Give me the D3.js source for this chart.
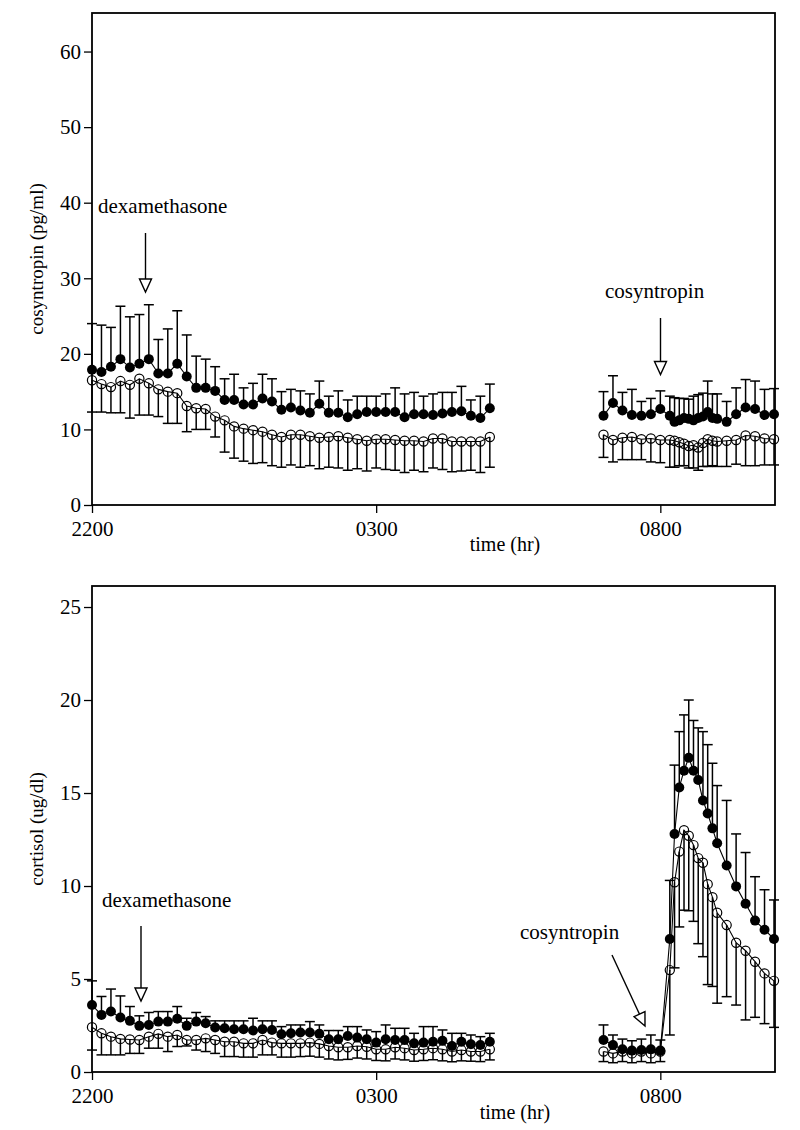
<!DOCTYPE html>
<html><head><meta charset="utf-8">
<script src="https://cdn.jsdelivr.net/npm/d3@7"></script>
<style>
body{margin:0;background:#fff}
svg text{font-family:"Liberation Serif","Times New Roman",serif;fill:#000}
</style>
</head><body>
<svg id="chart" width="800" height="1130"></svg>
<script>
// ---------- categories (sampling times) ----------
const timesEarly = ["2200","2210","2220","2230","2240","2250","2300","2310","2320","2330","2340","2350",
  "0000","0010","0020","0030","0040","0050","0100","0110","0120","0130","0140","0150",
  "0200","0210","0220","0230","0240","0250","0300","0310","0320","0330","0340","0350",
  "0400","0410","0420","0430","0440","0450","0500"];
const timesLate = ["0700","0710","0720","0730","0740","0750","0800","0810","0815","0820","0825","0830",
  "0835","0840","0845","0850","0855","0900","0910","0920","0930","0940","0950","1000"];
const xTickLabels = ["2200","0300","0800"];
const xTickTimes = ["2200","0300","0800"];

// ---------- top panel: cosyntropin (pg/ml) ----------
const acthFilledEarly = [17.9,17.6,18.3,19.3,18.2,18.7,19.3,17.4,17.4,18.7,17.0,15.5,15.5,15.1,13.9,13.9,13.3,13.3,14.1,13.7,
  12.6,12.9,12.5,12.2,13.4,12.2,12.2,11.6,12.0,12.3,12.3,12.3,12.3,11.6,12.0,12.0,11.9,12.1,12.3,12.4,11.8,11.5,12.8];
const acthFilledEarlyUpper = [24.0,23.8,23.5,26.3,24.9,25.2,26.5,21.9,23.3,25.7,22.5,19.7,19.3,18.3,16.7,17.3,15.5,16.1,17.3,16.7,
  15.0,15.3,15.1,14.7,16.4,14.4,15.1,13.9,14.4,14.4,14.4,14.7,15.5,14.7,14.9,14.4,14.7,14.9,14.9,15.7,13.9,14.4,16.0];
const acthOpenEarly = [16.5,16.0,15.6,16.4,15.9,16.7,16.1,15.3,15.0,14.8,13.1,12.8,12.7,11.7,11.2,10.4,10.1,9.9,9.7,9.3,
  9.0,9.3,9.3,9.1,8.9,9.0,9.1,8.9,8.7,8.5,8.7,8.7,8.6,8.5,8.5,8.4,8.8,8.8,8.4,8.4,8.4,8.4,9.0];
const acthOpenEarlyLower = [12.3,12.3,12.2,12.2,11.5,11.9,11.9,11.7,10.8,10.8,9.7,10.0,10.0,9.0,7.0,6.2,5.8,5.5,5.6,5.2,
  5.0,5.3,5.0,5.2,4.8,5.0,4.9,4.6,4.8,4.5,4.9,4.7,4.6,4.3,4.6,4.4,4.9,4.7,4.4,4.5,4.6,4.3,5.0];
const acthFilledLate = [11.8,13.5,12.5,11.9,11.8,12.0,12.7,11.8,11.0,11.2,11.5,11.4,11.2,11.5,11.7,12.3,11.5,11.4,11.0,12.0,12.9,12.7,11.9,12.0];
const acthFilledLateUpper = [15.0,17.1,14.9,15.3,13.7,14.1,15.1,14.4,14.2,14.1,14.1,14.0,14.4,14.6,14.8,16.4,14.7,14.7,13.7,15.5,16.6,16.4,15.3,15.4];
const acthOpenLate = [9.3,8.6,8.9,9.0,8.7,8.8,8.6,8.6,8.5,8.3,8.1,7.8,7.9,7.6,8.2,8.7,8.5,8.4,8.5,8.6,9.2,9.1,8.8,8.7];
const acthOpenLateLower = [6.3,5.7,6.0,6.0,6.0,5.7,5.6,5.0,5.0,5.2,5.2,4.9,4.9,4.6,5.1,5.1,5.2,5.1,5.1,5.4,5.2,5.2,5.3,5.3];
const acthYTicks = [0,10,20,30,40,50,60];

// ---------- bottom panel: cortisol (ug/dl) ----------
const cortFilledEarly = [3.6,3.07,3.25,2.93,2.75,2.48,2.53,2.71,2.71,2.86,2.48,2.71,2.62,2.39,2.35,2.30,2.30,2.23,2.30,2.26,
  2.03,2.08,2.12,2.12,2.05,1.76,1.76,1.94,1.85,1.76,1.58,1.76,1.72,1.72,1.54,1.58,1.63,1.68,1.40,1.63,1.49,1.45,1.63];
const cortFilledEarlyUpper = [4.9,4.06,4.46,4.09,3.52,3.02,3.2,3.25,3.25,3.52,2.89,3.2,2.98,2.75,2.75,2.75,2.75,2.89,2.75,2.75,
  2.44,2.53,2.53,2.71,2.53,2.23,2.23,2.44,2.44,2.26,2.17,2.53,2.35,2.35,2.08,2.44,2.44,2.26,2.08,2.08,1.99,1.90,2.08];
const cortOpenEarly = [2.41,2.08,1.90,1.78,1.75,1.72,1.90,2.05,1.90,1.99,1.72,1.72,1.81,1.72,1.63,1.63,1.54,1.54,1.72,1.58,
  1.54,1.54,1.54,1.58,1.51,1.40,1.33,1.33,1.40,1.36,1.22,1.22,1.33,1.28,1.18,1.22,1.28,1.22,1.10,1.18,1.10,1.10,1.22];
const cortOpenEarlyLower = [1.18,0.92,0.92,0.92,1.0,1.0,1.28,1.28,1.1,1.37,1.40,1.18,1.1,1.0,0.83,0.83,0.8,0.8,0.92,0.92,
  0.8,0.8,0.83,0.85,0.8,0.7,0.65,0.68,0.75,0.7,0.62,0.6,0.7,0.65,0.58,0.62,0.66,0.6,0.55,0.6,0.58,0.56,0.65];
const cortFilledLate = [1.72,1.45,1.22,1.15,1.18,1.22,1.15,7.15,12.8,15.3,16.2,16.9,16.2,15.7,14.6,13.9,13.1,12.3,11.1,9.98,9.05,8.14,7.65,7.15];
const cortFilledLateUpper = [2.53,1.99,1.77,1.68,1.77,1.99,1.72,10.3,16.5,18.3,19.2,20.0,18.9,18.5,18.3,17.6,16.6,15.4,14.6,12.8,11.8,10.5,9.8,9.25];
const cortOpenLate = [1.1,1.0,1.1,1.0,1.1,1.0,1.1,5.48,10.2,11.85,13.0,12.7,12.2,11.5,11.25,10.1,9.4,8.56,7.9,6.95,6.52,5.93,5.3,4.9];
const cortOpenLateLower = [0.56,0.5,0.56,0.5,0.56,0.5,0.56,1.99,5.6,7.8,8.7,8.67,8.1,6.9,6.2,4.7,4.6,3.7,4.05,3.6,2.8,2.94,2.6,2.4];
const cortYTicks = [0,5,10,15,20,25];

// ---------- drawing ----------
const svg = d3.select("#chart");
function hr(s){ const h = +s.slice(0,2) + (+s.slice(2))/60; return h < 12 ? h + 24 : h; }
const x = d3.scaleLinear().domain([22,34]).range([92,774]);
const FRAME_R = 775;

function drawPanel(p){
  const y = d3.scaleLinear().domain([0,p.ymax]).range([p.y0,p.yTop]);
  const g = svg.append("g");

  // y axis
  const ya = g.append("g").attr("transform","translate(92,0)")
    .call(d3.axisLeft(y).tickValues(p.yticks).tickSize(8).tickPadding(3).tickFormat(d3.format("d")));
  ya.select(".domain").remove();
  ya.selectAll("line").attr("stroke","#000").attr("stroke-width",1.3);
  ya.selectAll("text").attr("font-size",21).attr("font-family","Liberation Serif").attr("fill","#000");

  // x axis
  const xa = g.append("g").attr("transform",`translate(0,${p.y0})`)
    .call(d3.axisBottom(x).tickValues(xTickTimes.map(hr)).tickSize(8).tickPadding(8)
      .tickFormat((d,i)=>xTickLabels[i]));
  xa.select(".domain").remove();
  xa.selectAll("line").attr("stroke","#000").attr("stroke-width",1.3);
  xa.selectAll("text").attr("font-size",21).attr("font-family","Liberation Serif").attr("fill","#000");

  // frame
  g.append("rect").attr("x",92).attr("y",p.yTop).attr("width",FRAME_R-92).attr("height",p.y0-p.yTop)
    .attr("fill","none").attr("stroke","#000").attr("stroke-width",1.8);

  // labels
  g.append("text").attr("transform",`translate(${p.ylabX},${(p.y0+p.yTop)/2}) rotate(-90)`)
    .attr("text-anchor","middle").attr("font-size",19).text(p.ylabel);
  g.append("text").attr("x",p.xlabX).attr("y",p.xlabY).attr("text-anchor","middle")
    .attr("font-size",20).text("time (hr)");

  const line = d3.line().x(d=>x(d.t)).y(d=>y(d.v));
  p.groups.forEach(gr=>{
    const F = gr.times.map((s,i)=>({t:hr(s), v:gr.f[i], e:gr.fe[i]}));
    const O = gr.times.map((s,i)=>({t:hr(s), v:gr.o[i], e:gr.oe[i]}));
    g.append("path").datum(F).attr("d",line).attr("fill","none").attr("stroke","#000").attr("stroke-width",1.1);
    g.append("path").datum(O).attr("d",line).attr("fill","none").attr("stroke","#000").attr("stroke-width",1.1);
    [F,O].forEach(S=>{
      const eb = g.append("g").attr("stroke","#000").attr("stroke-width",1.5);
      eb.selectAll("line.v").data(S).join("line").attr("class","v")
        .attr("x1",d=>x(d.t)).attr("x2",d=>x(d.t)).attr("y1",d=>y(d.v)).attr("y2",d=>y(d.e));
      eb.selectAll("line.c").data(S).join("line").attr("class","c")
        .attr("x1",d=>x(d.t)-5).attr("x2",d=>x(d.t)+5).attr("y1",d=>y(d.e)).attr("y2",d=>y(d.e));
    });
    g.append("g").selectAll("circle").data(O).join("circle")
      .attr("cx",d=>x(d.t)).attr("cy",d=>y(d.v)).attr("r",4.6)
      .attr("fill","none").attr("stroke","#000").attr("stroke-width",1.2);
    g.append("g").selectAll("circle").data(F).join("circle")
      .attr("cx",d=>x(d.t)).attr("cy",d=>y(d.v)).attr("r",5)
      .attr("fill","#000");
  });

  // annotations
  p.notes.forEach(n=>{
    g.append("text").attr("x",n.tx).attr("y",n.ty).attr("font-size",21).text(n.text);
    const [x1,y1,x2,y2] = n.arrow;
    const ang = Math.atan2(y2-y1,x2-x1);
    const L = 13, W = 6;
    const bx = x2 - L*Math.cos(ang), by = y2 - L*Math.sin(ang);
    g.append("line").attr("x1",x1).attr("y1",y1).attr("x2",bx).attr("y2",by)
      .attr("stroke","#000").attr("stroke-width",1.4);
    const px = -Math.sin(ang), py = Math.cos(ang);
    g.append("path").attr("d",`M${bx+W*px},${by+W*py}L${x2},${y2}L${bx-W*px},${by-W*py}Z`)
      .attr("fill","#fff").attr("stroke","#000").attr("stroke-width",1.4);
  });
}

drawPanel({
  y0:505, yTop:13, ymax:65.1, yticks:acthYTicks, ylabel:"cosyntropin (pg/ml)", ylabX:43,
  xlabX:505, xlabY:551,
  groups:[
    {times:timesEarly, f:acthFilledEarly, fe:acthFilledEarlyUpper, o:acthOpenEarly, oe:acthOpenEarlyLower},
    {times:timesLate, f:acthFilledLate, fe:acthFilledLateUpper, o:acthOpenLate, oe:acthOpenLateLower}
  ],
  notes:[
    {text:"dexamethasone", tx:98, ty:213, arrow:[145.5,233,145.5,292]},
    {text:"cosyntropin", tx:605, ty:298, arrow:[660.5,318,660.5,374.5]}
  ]
});

drawPanel({
  y0:1072, yTop:586, ymax:26.13, yticks:cortYTicks, ylabel:"cortisol (ug/dl)", ylabX:43,
  xlabX:515, xlabY:1119,
  groups:[
    {times:timesEarly, f:cortFilledEarly, fe:cortFilledEarlyUpper, o:cortOpenEarly, oe:cortOpenEarlyLower},
    {times:timesLate, f:cortFilledLate, fe:cortFilledLateUpper, o:cortOpenLate, oe:cortOpenLateLower}
  ],
  notes:[
    {text:"dexamethasone", tx:102, ty:907, arrow:[141,926,141,1001]},
    {text:"cosyntropin", tx:520, ty:939, arrow:[612,955,645,1026]}
  ]
});
</script>
</body></html>
